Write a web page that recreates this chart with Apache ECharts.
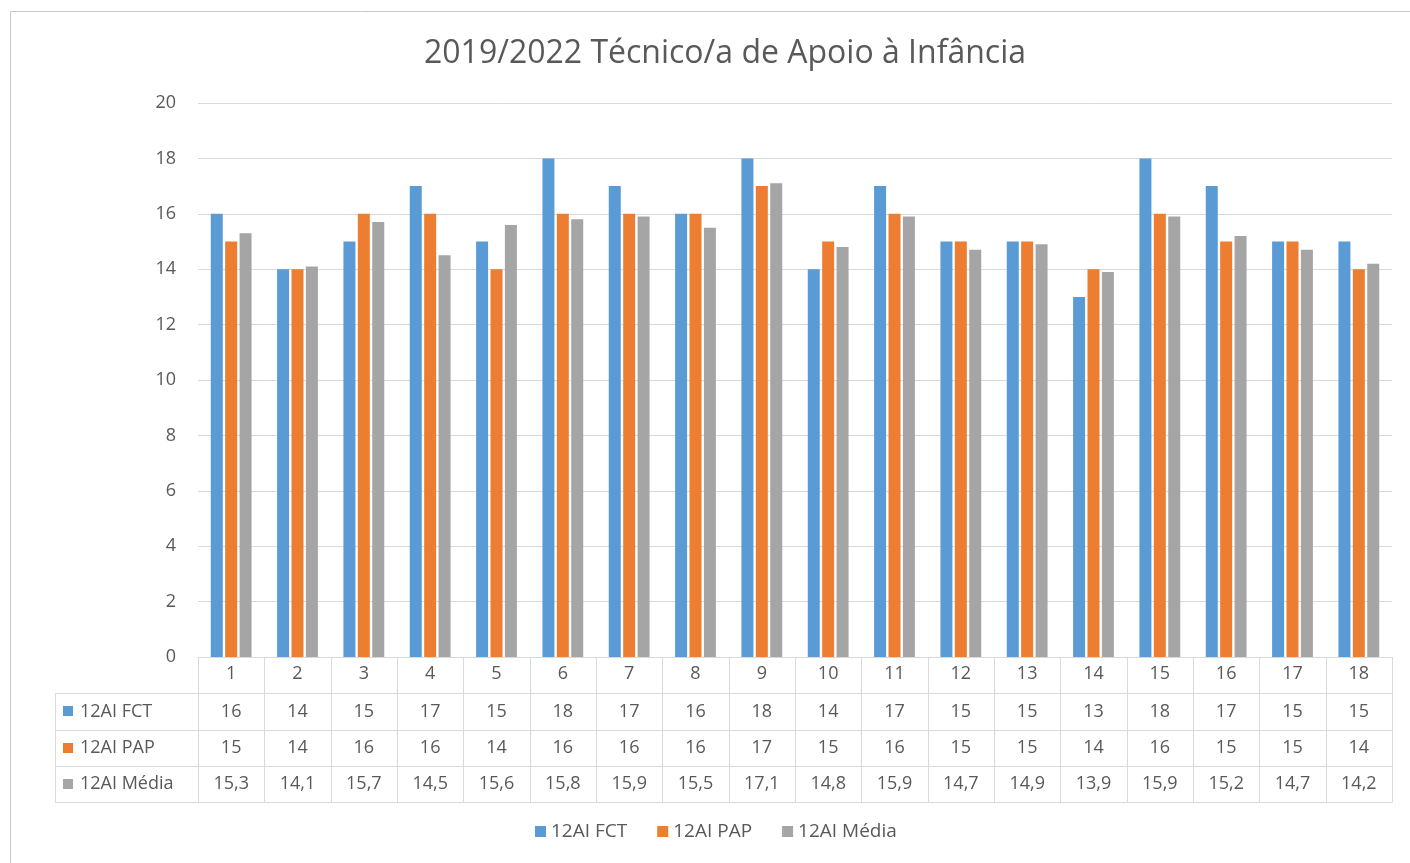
<!DOCTYPE html>
<html>
<head>
<meta charset="utf-8">
<script src="https://cdn.jsdelivr.net/npm/echarts@6/dist/echarts.min.js"></script>
<style>
  html, body { margin: 0; padding: 0; background: #fff; }
  #chart { width: 1410px; height: 863px; }
</style>
</head>
<body>
<div id="chart"></div>
<script>
// data
var categories = ['1', '2', '3', '4', '5', '6', '7', '8', '9', '10', '11', '12', '13', '14', '15', '16', '17', '18'];
var seriesNames = ['12AI FCT', '12AI PAP', '12AI Média'];
var fct = [16, 14, 15, 17, 15, 18, 17, 16, 18, 14, 17, 15, 15, 13, 18, 17, 15, 15];
var pap = [15, 14, 16, 16, 14, 16, 16, 16, 17, 15, 16, 15, 15, 14, 16, 15, 15, 14];
var media = [15.3, 14.1, 15.7, 14.5, 15.6, 15.8, 15.9, 15.5, 17.1, 14.8, 15.9, 14.7, 14.9, 13.9, 15.9, 15.2, 14.7, 14.2];
var colors = ['#5B9BD5', '#ED7D31', '#A5A5A5'];

var txtColor = '#595959';
var lineColor = '#D9D9D9';
var fontFam = '"Open Sans", sans-serif';

var myChart = echarts.init(document.getElementById('chart'));

var allData = [fct, pap, media];

var option = {
    animation: false,
    color: colors,
    title: {
        text: '2019/2022 Técnico/a de Apoio à Infância',
        left: 720,
        textAlign: 'center',
        top: 33,
        textStyle: { fontFamily: fontFam, fontSize: 32, fontWeight: 'normal', color: txtColor }
    },
    legend: {
        data: seriesNames,
        bottom: 17,
        left: 530,
        icon: 'rect',
        itemWidth: 11,
        itemHeight: 11,
        itemGap: 30,
        textStyle: { fontFamily: fontFam, fontSize: 19, color: txtColor }
    },
    grid: {
        left: 198,
        right: 18,
        top: 103,
        bottom: 206
    },
    xAxis: {
        type: 'category',
        data: categories,
        axisTick: { show: false },
        axisLine: { lineStyle: { color: lineColor } },
        axisLabel: { fontFamily: fontFam, fontSize: 18, color: txtColor, margin: 8 }
    },
    yAxis: {
        type: 'value',
        min: 0,
        max: 20,
        interval: 2,
        axisLine: { show: false },
        axisTick: { show: false },
        splitLine: { lineStyle: { color: lineColor, width: 1 } },
        axisLabel: { fontFamily: fontFam, fontSize: 18, color: txtColor, margin: 22 }
    },
    series: seriesNames.map(function (name, i) {
        return {
            name: name,
            type: 'bar',
            data: allData[i],
            barWidth: 12,
            barGap: '20%'
        };
    })
};

myChart.setOption(option);

// data table under the plot, placed from the axis scale
function drawTable() {
    var x0 = myChart.convertToPixel({ xAxisIndex: 0 }, 0);
    var x1 = myChart.convertToPixel({ xAxisIndex: 0 }, 1);
    var colW = x1 - x0;
    var left = x0 - colW / 2;
    var right = left + colW * categories.length;
    var y0 = myChart.convertToPixel({ yAxisIndex: 0 }, 0);
    var rowH = 36.3;
    var nameLeft = 55;
    var elems = [];
    var ls = { stroke: lineColor, lineWidth: 1 };

    // chart outer border
    elems.push({ type: 'rect', shape: { x: 10.5, y: 11.5, width: 1420, height: 900 }, style: { fill: 'none', stroke: '#C8C8C8', lineWidth: 1 }, silent: true });

    // horizontal lines
    for (var r = 1; r <= 4; r++) {
        var y = Math.round(y0 + r * rowH) + 0.5;
        elems.push({ type: 'line', shape: { x1: nameLeft, y1: y, x2: right, y2: y }, style: ls });
    }
    // vertical lines
    for (var c = 0; c <= categories.length; c++) {
        var x = Math.round(left + c * colW) + 0.5;
        elems.push({ type: 'line', shape: { x1: x, y1: y0, x2: x, y2: Math.round(y0 + 4 * rowH) + 0.5 }, style: ls });
    }
    var xl = nameLeft + 0.5;
    elems.push({ type: 'line', shape: { x1: xl, y1: Math.round(y0 + rowH) + 0.5, x2: xl, y2: Math.round(y0 + 4 * rowH) + 0.5 }, style: ls });

    // rows: key + values
    for (var s = 0; s < seriesNames.length; s++) {
        var cy = y0 + (s + 1.5) * rowH;
        elems.push({ type: 'rect', shape: { x: 63, y: Math.round(cy - 5), width: 10, height: 10 }, style: { fill: colors[s] } });
        elems.push({ type: 'text', x: 80, y: cy, style: { text: seriesNames[s], font: '18px ' + fontFam, fill: txtColor, verticalAlign: 'middle', align: 'left' } });
        for (var k = 0; k < categories.length; k++) {
            elems.push({
                type: 'text',
                x: left + (k + 0.5) * colW,
                y: cy,
                style: { text: String(allData[s][k]).replace('.', ','), font: '18px ' + fontFam, fill: txtColor, align: 'center', verticalAlign: 'middle' }
            });
        }
    }
    myChart.setOption({ graphic: { elements: elems } });
}

drawTable();

window.onresize = function () {
    myChart.resize();
    drawTable();
};
</script>
</body>
</html>
